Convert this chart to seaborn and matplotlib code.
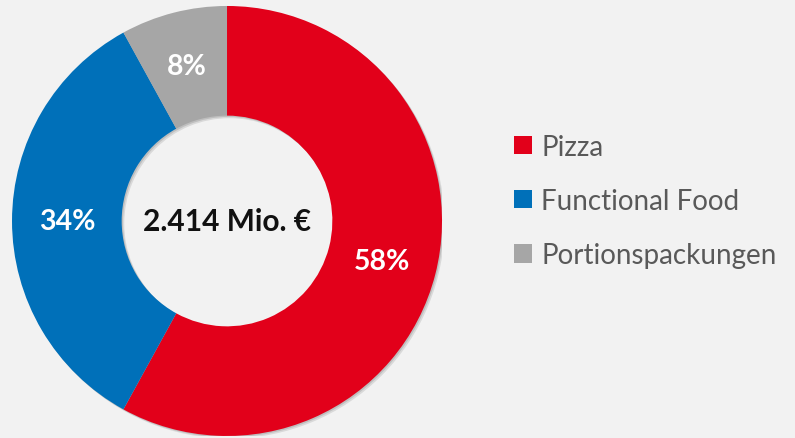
import matplotlib
matplotlib.use("Agg")
import matplotlib.pyplot as plt
import seaborn as sns
from matplotlib.patches import Patch, Wedge

categories = ["Pizza", "Functional Food", "Portionspackungen"]
values = [58, 34, 8]
colors = ["#E2001A", "#0070B9", "#A6A6A6"]
center_text = "2.414 Mio. €"

sns.set_theme(style="white")
plt.rcParams["font.family"] = ["Lato", "DejaVu Sans"]

fig = plt.figure(figsize=(7.95, 4.39), dpi=100)
fig.patch.set_facecolor("#F2F2F2")
ax = fig.add_axes([0.0151, 0.0046, 0.5409, 0.9795])
ax.set_facecolor("none")

# subtle shadow
for off, a in [(0.012, 0.10), (0.006, 0.12)]:
    ax.add_patch(Wedge((off, -off), 1.0, 0, 360, width=0.51, color="#000000",
                       alpha=a, lw=0, zorder=0))

wedges, texts, autotexts = ax.pie(
    values, colors=colors, startangle=90, counterclock=False,
    radius=1.0, wedgeprops=dict(width=0.51, linewidth=0),
    autopct=lambda p: f"{p:.0f}%", pctdistance=0.745,
    textprops=dict(color="white", fontsize=20.5, fontweight="bold"))
for w in wedges:
    w.set_zorder(2)
for t in autotexts:
    t.set_zorder(3)

ax.text(0, 0, center_text, ha="center", va="center", fontsize=21.5,
        fontweight="bold", color="#111111", zorder=3)
ax.set_xlim(-1, 1)
ax.set_ylim(-1, 1)
ax.set_aspect("equal")
ax.axis("off")

handles = [Patch(facecolor=c, edgecolor="none") for c in colors]
leg = fig.legend(handles, categories, loc="center left",
                 bbox_to_anchor=(0.6465, 0.54), frameon=False,
                 borderpad=0, borderaxespad=0,
                 fontsize=20, labelcolor="#595959", handlelength=0.65,
                 handleheight=0.65, handletextpad=0.33, labelspacing=1.02)

fig.savefig("out.png", dpi=100, facecolor=fig.get_facecolor())
